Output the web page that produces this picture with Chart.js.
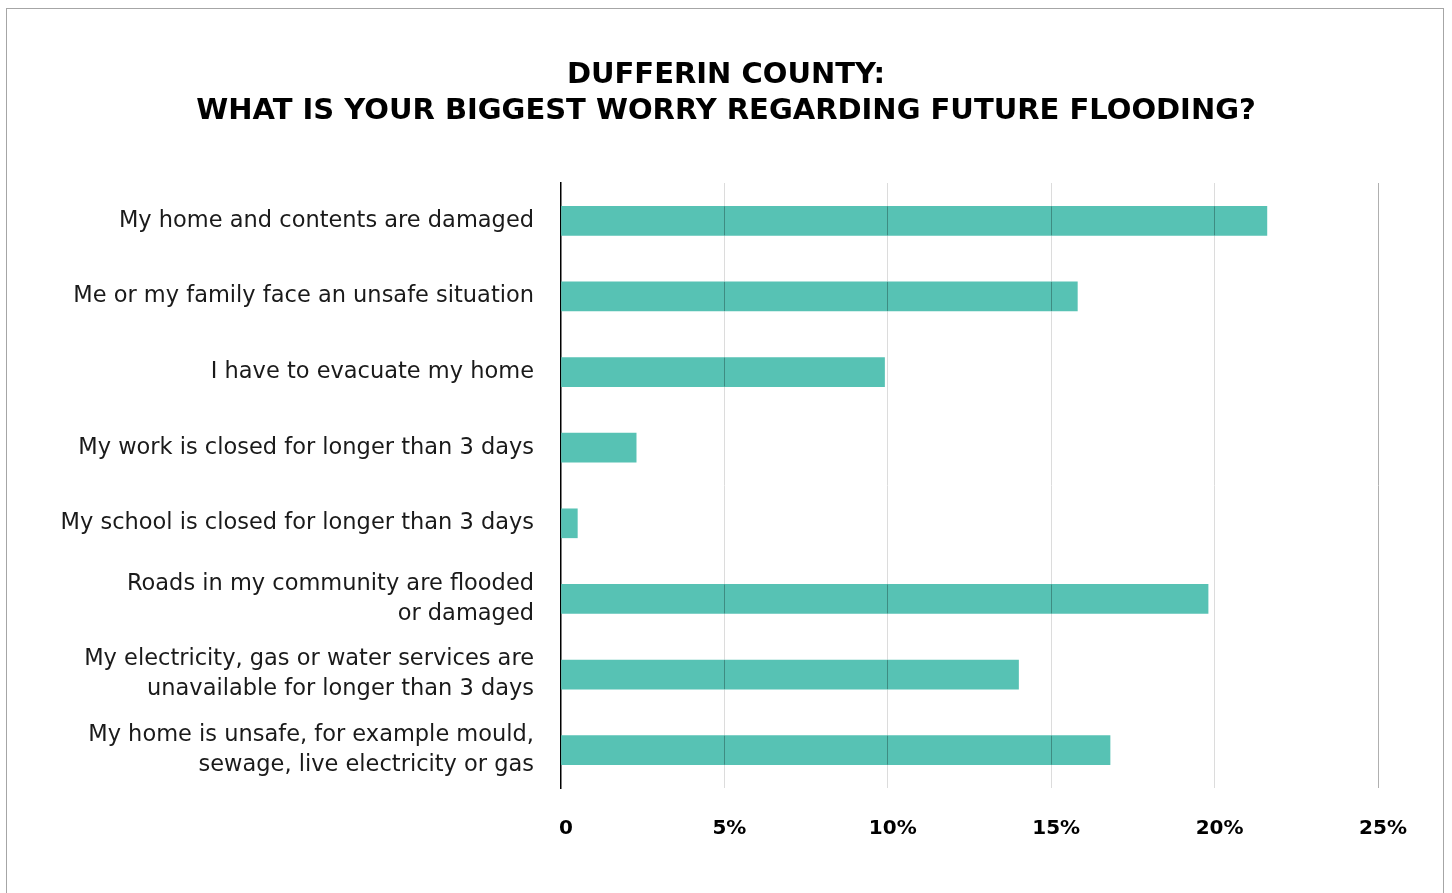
<!DOCTYPE html>
<html>
<head>
<meta charset="utf-8">
<script src="https://cdn.jsdelivr.net/npm/chart.js@4.4.1/dist/chart.umd.min.js"></script>
<style>
  html, body { margin: 0; padding: 0; background: #fff; overflow: hidden; }
  #frame {
    position: absolute; left: 6px; top: 8px; width: 1438px; height: 900px;
    border: 1px solid #a6a6a6; box-sizing: border-box;
  }
  #worry_chart { position: absolute; left: 0; top: 0; }
</style>
</head>
<body>
<div id="frame"></div>
<canvas id="worry_chart" width="1452" height="893"></canvas>
<script>
  const titleLines = ['DUFFERIN COUNTY:', 'WHAT IS YOUR BIGGEST WORRY REGARDING FUTURE FLOODING?']
  const worries = [
    'My home and contents are damaged',
    'Me or my family face an unsafe situation',
    'I have to evacuate my home',
    'My work is closed for longer than 3 days',
    'My school is closed for longer than 3 days',
    ['Roads in my community are flooded', 'or damaged'],
    ['My electricity, gas or water services are', 'unavailable for longer than 3 days'],
    ['My home is unsafe, for example mould,', 'sewage, live electricity or gas'],
  ]
  const shares = [21.6, 15.8, 9.9, 2.3, 0.5, 19.8, 14.0, 16.8]
  const pctTicks = ['0', '5%', '10%', '15%', '20%', '25%']

  const labelFont = '"DejaVu Sans", sans-serif'

  // title centred on the page rather than on the layout box
  const pageTitle = {
    id: 'pageTitle',
    afterDraw(chart) {
      const ctx = chart.ctx
      ctx.save()
      ctx.fillStyle = '#000'
      ctx.font = 'bold 29px ' + labelFont
      ctx.textAlign = 'center'
      ctx.textBaseline = 'middle'
      titleLines.forEach((line, i) => ctx.fillText(line, chart.width / 2, 75 + i * 36))
      ctx.restore()
    }
  }

  // darker grid marks where a gridline crosses a bar
  const gridOverBars = {
    id: 'gridOverBars',
    afterDatasetsDraw(chart) {
      const ctx = chart.ctx
      const xs = chart.scales.x
      const meta = chart.getDatasetMeta(0)
      ctx.save()
      ctx.strokeStyle = 'rgba(0,0,0,0.28)'
      ctx.lineWidth = 1
      meta.data.forEach((bar, i) => {
        const top = bar.y - bar.height / 2
        const bottom = bar.y + bar.height / 2
        ;[5, 10, 15, 20].forEach(v => {
          if (v >= shares[i]) return
          const px = Math.round(xs.getPixelForValue(v) - 0.5) + 0.5
          ctx.beginPath()
          ctx.moveTo(px, top)
          ctx.lineTo(px, bottom)
          ctx.stroke()
        })
      })
      ctx.restore()
    }
  }

  new Chart(
    document.getElementById('worry_chart'),
    {
      type: 'bar',
      data: {
        labels: worries,
        datasets: [
          {
            label: 'share',
            data: shares,
            backgroundColor: '#57c2b4',
            borderWidth: 0,
            barThickness: 29
          }
        ]
      },
      options: {
        indexAxis: 'y',
        responsive: false,
        animation: false,
        layout: { padding: { left: 0, right: 74, top: 183, bottom: 0 } },
        plugins: {
          legend: { display: false },
          tooltip: { enabled: false },
          title: { display: false }
        },
        scales: {
          x: {
            min: 0,
            max: 25,
            afterFit: s => { s.height = 105 },
            border: { display: false },
            grid: {
              drawTicks: false,
              lineWidth: 1,
              color: ctx => ctx.index === 0 ? 'rgba(0,0,0,0)' : (ctx.index === 5 ? '#b0b0b0' : '#dcdcdc')
            },
            ticks: {
              stepSize: 5,
              padding: 29,
              labelOffset: 5,
              color: '#000',
              font: { family: labelFont, size: 20, weight: 'bold' },
              callback: (v, i) => pctTicks[i]
            }
          },
          y: {
            afterFit: s => { s.width = 561 },
            border: { display: true, color: '#000', width: 1.5 },
            grid: { display: false },
            ticks: {
              padding: 19,
              color: '#1a1a1a',
              font: { family: labelFont, size: 22.5, lineHeight: 30 / 22.5 }
            }
          }
        }
      },
      plugins: [gridOverBars, pageTitle]
    }
  );
</script>
</body>
</html>
